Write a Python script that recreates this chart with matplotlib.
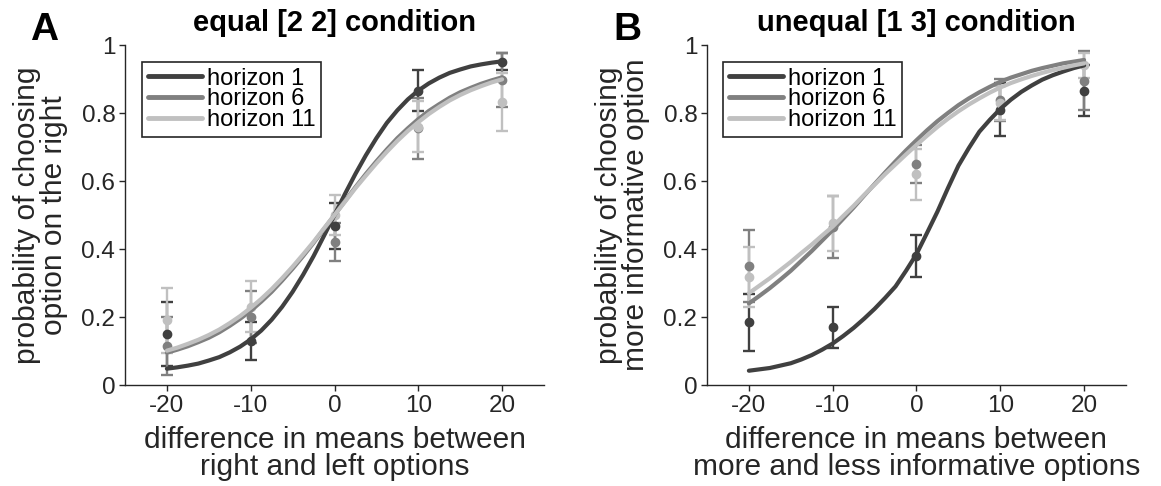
import matplotlib
matplotlib.use("Agg")
import matplotlib.pyplot as plt

plt.rcParams['font.family'] = ['Liberation Sans', 'DejaVu Sans']
plt.rcParams['axes.unicode_minus'] = False

# ---------------- data ----------------
x_pts = [-20, -10, 0, 10, 20]
x_fit = [-20, -18.75, -17.5, -16.25, -15, -13.75, -12.5, -11.25, -10, -8.75,
         -7.5, -6.25, -5, -3.75, -2.5, -1.25, 0, 1.25, 2.5, 3.75, 5, 6.25,
         7.5, 8.75, 10, 11.25, 12.5, 13.75, 15, 16.25, 17.5, 18.75, 20]
labels = ["horizon 1", "horizon 6", "horizon 11"]
colors = ["#404040", "#808080", "#c0c0c0"]

# Panel A: equal [2 2]
A_mean_h1 = [0.150, 0.130, 0.467, 0.865, 0.950]
A_err_h1 = [0.095, 0.055, 0.067, 0.060, 0.025]
A_mean_h6 = [0.115, 0.200, 0.420, 0.755, 0.897]
A_err_h6 = [0.085, 0.077, 0.055, 0.090, 0.078]
A_mean_h11 = [0.190, 0.230, 0.500, 0.760, 0.833]
A_err_h11 = [0.095, 0.075, 0.060, 0.075, 0.085]

A_fit_h1 = [0.048, 0.052, 0.057, 0.063, 0.072, 0.082, 0.096, 0.113, 0.134,
            0.160, 0.192, 0.230, 0.274, 0.324, 0.379, 0.439, 0.500, 0.562,
            0.621, 0.676, 0.726, 0.771, 0.808, 0.840, 0.866, 0.887, 0.904,
            0.918, 0.928, 0.937, 0.943, 0.948, 0.952]
A_fit_h6 = [0.095, 0.104, 0.114, 0.126, 0.139, 0.155, 0.174, 0.195, 0.218,
            0.245, 0.274, 0.307, 0.342, 0.379, 0.418, 0.459, 0.500, 0.541,
            0.582, 0.621, 0.658, 0.693, 0.726, 0.755, 0.782, 0.806, 0.826,
            0.845, 0.861, 0.874, 0.886, 0.896, 0.905]
A_fit_h11 = [0.101, 0.110, 0.121, 0.133, 0.147, 0.163, 0.182, 0.203, 0.227,
             0.253, 0.282, 0.314, 0.348, 0.384, 0.421, 0.461, 0.500, 0.539,
             0.579, 0.616, 0.652, 0.686, 0.718, 0.747, 0.773, 0.797, 0.818,
             0.837, 0.853, 0.867, 0.879, 0.890, 0.899]

# Panel B: unequal [1 3]
B_mean_h1 = [0.184, 0.170, 0.380, 0.810, 0.865]
B_err_h1 = [0.083, 0.060, 0.062, 0.078, 0.075]
B_mean_h6 = [0.350, 0.465, 0.649, 0.838, 0.895]
B_err_h6 = [0.106, 0.090, 0.056, 0.062, 0.086]
B_mean_h11 = [0.317, 0.475, 0.620, 0.830, 0.940]
B_err_h11 = [0.088, 0.080, 0.075, 0.050, 0.037]

B_fit_h1 = [0.042, 0.046, 0.050, 0.057, 0.064, 0.075, 0.088, 0.104, 0.122,
            0.144, 0.168, 0.195, 0.224, 0.256, 0.290, 0.336, 0.385, 0.447,
            0.510, 0.579, 0.645, 0.697, 0.745, 0.780, 0.812, 0.839, 0.862,
            0.881, 0.898, 0.911, 0.922, 0.932, 0.940]
B_fit_h6 = [0.240, 0.262, 0.285, 0.310, 0.336, 0.365, 0.394, 0.425, 0.456,
            0.489, 0.522, 0.557, 0.591, 0.625, 0.658, 0.690, 0.720, 0.749,
            0.776, 0.800, 0.823, 0.843, 0.861, 0.877, 0.892, 0.904, 0.914,
            0.924, 0.932, 0.939, 0.946, 0.951, 0.956]
B_fit_h11 = [0.270, 0.292, 0.314, 0.338, 0.362, 0.388, 0.413, 0.440, 0.466,
             0.497, 0.527, 0.559, 0.589, 0.620, 0.649, 0.678, 0.706, 0.733,
             0.759, 0.783, 0.805, 0.825, 0.843, 0.860, 0.875, 0.888, 0.899,
             0.909, 0.918, 0.926, 0.933, 0.940, 0.946]

x_ticks = [-20, -10, 0, 10, 20]
y_ticks = [0, 0.2, 0.4, 0.6, 0.8, 1]
y_ticklabels = ["0", "0.2", "0.4", "0.6", "0.8", "1"]

panels = [
    dict(letter="A", title="equal [2 2] condition",
         ylabel="probability of choosing\noption on the right",
         xlabel="difference in means between\nright and left options",
         means=[A_mean_h1, A_mean_h6, A_mean_h11],
         errs=[A_err_h1, A_err_h6, A_err_h11],
         fits=[A_fit_h1, A_fit_h6, A_fit_h11],
         rect=[125 / 1161, 101 / 486, 419 / 1161, 340 / 486],
         letter_x=30 / 1161, leg_x=0.040),
    dict(letter="B", title="unequal [1 3] condition",
         ylabel="probability of choosing\nmore informative option",
         xlabel="difference in means between\nmore and less informative options",
         means=[B_mean_h1, B_mean_h6, B_mean_h11],
         errs=[B_err_h1, B_err_h6, B_err_h11],
         fits=[B_fit_h1, B_fit_h6, B_fit_h11],
         rect=[707 / 1161, 101 / 486, 419 / 1161, 340 / 486],
         letter_x=613 / 1161, leg_x=0.038),
]

fig = plt.figure(figsize=(11.61, 4.86), dpi=100)
txt = "#262626"

for p in panels:
    ax = fig.add_axes(p["rect"])
    for m, e, c in zip(p["means"], p["errs"], colors):
        ax.errorbar(x_pts, m, yerr=e, fmt="o", color=c, ms=6, elinewidth=1.7,
                    capsize=4.2, capthick=1.7, zorder=2)
    for f, c, lab in zip(p["fits"], colors, labels):
        ax.plot(x_fit, f, color=c, lw=3, label=lab, zorder=3,
                solid_capstyle="round")
    ax.set_xlim(-25, 25)
    ax.set_ylim(0, 1)
    ax.set_xticks(x_ticks)
    ax.set_yticks(y_ticks)
    ax.set_yticklabels(y_ticklabels)
    for s in ["top", "right"]:
        ax.spines[s].set_visible(False)
    for s in ["left", "bottom"]:
        ax.spines[s].set_color(txt)
        ax.spines[s].set_linewidth(1.0)
    ax.tick_params(direction="out", length=4, width=1.0, colors=txt,
                   labelsize=17.5, pad=3)
    ax.set_title(p["title"], fontsize=21, fontweight="bold", pad=10, color="black")
    ax.set_ylabel(p["ylabel"], fontsize=21.5, color=txt, linespacing=0.95)
    ax.yaxis.set_label_coords(-0.137, 0.5)
    ax.set_xlabel(p["xlabel"], fontsize=21.5, color=txt, linespacing=0.95)
    ax.xaxis.set_label_coords(0.5, -0.12)
    leg = ax.legend(loc="upper left", bbox_to_anchor=(p["leg_x"], 0.951),
                    borderaxespad=0, fontsize=17, frameon=True, fancybox=False,
                    framealpha=1, edgecolor=txt, labelspacing=-0.05,
                    handlelength=2.3, handletextpad=0.2, borderpad=0.25)
    leg.get_frame().set_linewidth(1.2)
    for line in leg.get_lines():
        line.set_linewidth(3.5)
    for t in leg.get_texts():
        t.set_color("black")
    fig.text(p["letter_x"], 1 - 40 / 486, p["letter"], fontsize=28,
             fontweight="bold", va="baseline", ha="left")

fig.savefig("out.png", dpi=100)
